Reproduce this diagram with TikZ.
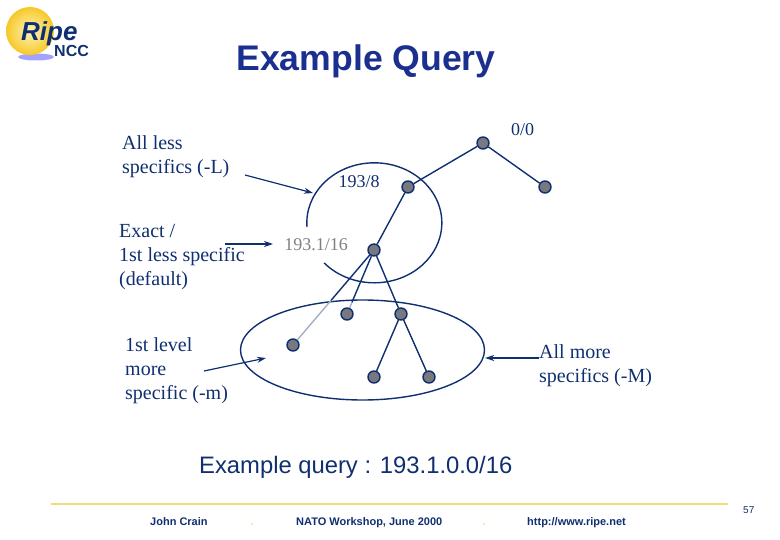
\documentclass[tikz,border=0pt]{standalone}
\usepackage{fontspec}
\setmainfont{Liberation Serif}
\setsansfont{Liberation Sans}
\usetikzlibrary{arrows.meta, positioning, shapes.geometric, calc}
\definecolor{navy}{HTML}{0F2F70}
\definecolor{titleblue}{HTML}{1B2F8F}
\definecolor{nodegray}{HTML}{77797F}
\definecolor{fadeline}{HTML}{A3AEC2}
\definecolor{rulegold}{HTML}{F0DC78}
\definecolor{balllight}{HTML}{FFF4B8}
\definecolor{balldark}{HTML}{F6C828}
\tikzset{
  router/.style={circle, draw=navy, line width=1.4pt, fill=nodegray, minimum size=12pt, inner sep=0pt},
  edge/.style={navy, line width=1.4pt},
  fadeedge/.style={fadeline, line width=1.4pt},
  ring/.style={navy, line width=1.4pt},
  pointer/.style={navy, line width=1.2pt, -{Stealth[length=9pt,width=6pt]}},
  textlabel/.style={font=\fontsize{20}{24}\selectfont, text=navy, align=left, inner sep=0pt, anchor=north west},
  netlabel/.style={font=\fontsize{18}{22}\selectfont, text=navy, inner sep=0pt},
  footer/.style={font=\sffamily\bfseries\fontsize{11}{13}\selectfont, text=navy, inner sep=0pt},
}
\begin{document}
\begin{tikzpicture}[x=1pt, y=-1pt, >=Stealth]
  \useasboundingbox (0,0) rectangle (780,540);
  % logo
  \fill[blue!60!white, opacity=0.6] (36,57) ellipse [x radius=18pt, y radius=3.5pt];
  \shade[inner color=balllight, outer color=balldark] (30,31) circle [radius=24pt];
  \node[font=\sffamily\bfseries\itshape\fontsize{26}{26}\selectfont, text=navy, inner sep=0pt, anchor=base west] (ripe) at (21,41) {Ripe};
  \node[font=\sffamily\bfseries\fontsize{16}{16}\selectfont, text=navy, inner sep=0pt, anchor=base west] (ncc) at (54,57) {NCC};

  % title
  \node[font=\sffamily\bfseries\fontsize{35.6}{36}\selectfont, text=titleblue, inner sep=0pt, anchor=base] (title) at (366,71) {Example Query};

  % routers
  \node[router] (root) at (483,143) {};
  \node[router] (right) at (545,187) {};
  \node[router] (slash8) at (408,187) {};
  \node[router] (slash16) at (374,250) {};
  \node[router] (leafa) at (293,345) {};
  \node[router] (leafb) at (347,314) {};
  \node[router] (leafc) at (401,314) {};
  \node[router] (leafd) at (374,377) {};
  \node[router] (leafe) at (429,377) {};

  % rings
  \draw[ring] (307,227) arc [start angle=184, end angle=-138, x radius=67.5pt, y radius=60pt];
  \node[ellipse, draw=navy, line width=1.4pt, minimum width=244pt, minimum height=100pt, inner sep=0pt] (more) at (362.5,350) {};

  % tree
  \coordinate (fadea) at ($(slash16)!0.53!(leafa)$);
  \coordinate (fadeb) at ($(slash16)!0.82!(leafb)$);
  \draw[edge] (root) -- (slash8);
  \draw[edge] (root) -- (right);
  \draw[edge] (slash8) -- (slash16);
  \draw[edge] (slash16) -- (fadea);
  \draw[edge] (slash16) -- (fadeb);
  \draw[edge] (slash16) -- (leafc);
  \draw[edge] (leafc) -- (leafd);
  \draw[edge] (leafc) -- (leafe);
  % lighter below the ellipse
  \draw[fadeedge] (fadea) -- (leafa);
  \draw[fadeedge] (fadeb) -- (leafb);

  % labels
  \node[textlabel] (lessL) at (122,135) {All less\\specifics (-L)};
  \node[textlabel] (exact) at (119,224) {Exact /\\1st less specific\\(default)};
  \node[textlabel] (firstm) at (125,337) {1st level\\more\\specific (-m)};
  \node[textlabel] (moreM) at (539,344) {All more\\specifics (-M)};
  \node[netlabel] (lzero) at (522.5,130) {0/0};
  \node[netlabel] (l8) at (359,182) {193/8};
  \node[netlabel, text=gray] (l16) at (316,245) {193.1/16};

  % pointers
  \coordinate (lessend) at (313,193);
  \coordinate (lessstart) at (245,175);
  \coordinate (exactstart) at (225,244);
  \coordinate (exactend) at (273,244);
  \coordinate (firststart) at (204,371);
  \coordinate (firstend) at (266,358);
  \coordinate (morestart) at (539,358);
  \draw[pointer] (lessstart) -- (lessend);
  \draw[pointer] (exactstart) -- (exactend);
  \draw[pointer] (firststart) -- (firstend);
  \draw[pointer] (morestart) -- (more.east |- morestart);

  % query
  \node[font=\sffamily\fontsize{23.8}{24}\selectfont, text=navy, inner sep=0pt, anchor=base west] (query) at (199,473) {Example query : 193.1.0.0/16};

  % footer
  \draw[rulegold, line width=2.5pt] (51,504) -- (728,504);
  \node[footer, anchor=base west] (author) at (150,525) {John Crain};
  \node[footer, anchor=base, text=rulegold] (dota) at (252,525) {.};
  \node[footer, anchor=base west] (event) at (296,525) {NATO Workshop, June 2000};
  \node[footer, anchor=base, text=rulegold] (dotb) at (484,525) {.};
  \node[footer, anchor=base west] (url) at (527,525) {http://www.ripe.net};
  \node[font=\sffamily\fontsize{10}{11}\selectfont, text=navy, inner sep=0pt, anchor=base west] (page) at (743,513) {57};
\end{tikzpicture}
\end{document}
